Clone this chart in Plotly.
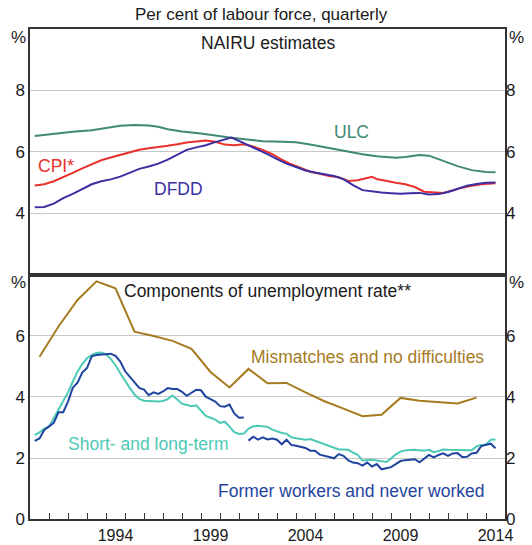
import plotly.graph_objects as go

# ---------------- Data ----------------
# Top panel: NAIRU estimates (per cent)
ulc_x = [1990.25, 1991.25, 1992.25, 1993.25, 1994.0, 1994.75, 1995.5, 1996.25, 1996.75, 1997.25,
         1998.0, 1999.0, 2000.5, 2001.5, 2002.25, 2003.25, 2004.0, 2004.75, 2005.75, 2006.75,
         2007.5, 2008.25, 2009.25, 2009.75, 2010.5, 2011.0, 2011.5, 2012.0, 2012.5, 2013.25,
         2014.0, 2014.5]
ulc_y = [6.52, 6.60, 6.66, 6.71, 6.78, 6.85, 6.88, 6.86, 6.82, 6.74,
         6.67, 6.60, 6.47, 6.40, 6.35, 6.33, 6.32, 6.24, 6.13, 6.00,
         5.93, 5.86, 5.81, 5.84, 5.90, 5.88, 5.77, 5.65, 5.54, 5.41,
         5.35, 5.34]

cpi_x = [1990.25, 1990.75, 1991.25, 1991.75, 1992.25, 1992.75, 1993.25, 1993.75, 1994.25, 1994.75,
         1995.25, 1995.75, 1996.25, 1996.75, 1997.25, 1997.75, 1998.25, 1998.75, 1999.25, 1999.75,
         2000.25, 2000.75, 2001.25, 2001.75, 2002.25, 2002.75, 2003.25, 2003.75, 2004.25, 2004.75,
         2005.25, 2005.75, 2006.25, 2006.75, 2007.25, 2007.75, 2008.0, 2008.25, 2008.75, 2009.25,
         2009.75, 2010.25, 2010.75, 2011.25, 2011.75, 2012.25, 2012.75, 2013.25, 2013.75, 2014.5]
cpi_y = [4.91, 4.95, 5.05, 5.18, 5.32, 5.47, 5.60, 5.73, 5.82, 5.90,
         6.00, 6.07, 6.12, 6.15, 6.20, 6.25, 6.31, 6.34, 6.37, 6.33,
         6.24, 6.22, 6.25, 6.18, 6.07, 5.93, 5.75, 5.60, 5.48, 5.36,
         5.29, 5.22, 5.18, 5.06, 5.08, 5.17, 5.19, 5.12, 5.05, 5.00,
         4.95, 4.86, 4.71, 4.68, 4.67, 4.75, 4.84, 4.90, 4.95, 4.98]

dfdd_x = [1990.25, 1990.75, 1991.25, 1991.75, 1992.25, 1992.75, 1993.25, 1993.75, 1994.25, 1994.75,
          1995.25, 1995.75, 1996.25, 1996.75, 1997.25, 1997.75, 1998.25, 1998.75, 1999.25, 1999.75,
          2000.25, 2000.6, 2001.0, 2001.5, 2002.0, 2002.5, 2003.0, 2003.5, 2004.0, 2004.5,
          2005.0, 2005.5, 2006.0, 2006.5, 2007.0, 2007.5, 2008.0, 2008.5, 2009.0, 2009.5,
          2010.0, 2010.5, 2011.0, 2011.5, 2012.0, 2012.5, 2013.0, 2013.5, 2014.0, 2014.5]
dfdd_y = [4.20, 4.21, 4.32, 4.50, 4.64, 4.79, 4.95, 5.05, 5.11, 5.20,
          5.33, 5.45, 5.53, 5.62, 5.75, 5.92, 6.07, 6.15, 6.22, 6.32,
          6.40, 6.47, 6.36, 6.22, 6.08, 5.93, 5.77, 5.62, 5.51, 5.40,
          5.33, 5.28, 5.22, 5.12, 4.92, 4.76, 4.71, 4.68, 4.66, 4.64,
          4.66, 4.67, 4.62, 4.63, 4.70, 4.80, 4.90, 4.96, 5.00, 5.01]

# Bottom panel: components of unemployment rate (per cent)
mis_x = [1990.5, 1991.5, 1992.5, 1993.5, 1994.5, 1995.5, 1996.5, 1997.5, 1998.5, 1999.5,
         2000.5, 2001.5, 2002.5, 2003.5, 2004.5, 2005.5, 2006.5, 2007.5, 2008.5, 2009.5,
         2010.5, 2011.5, 2012.5, 2013.5]
mis_y = [5.32, 6.31, 7.18, 7.79, 7.56, 6.14, 6.00, 5.84, 5.58, 4.82,
         4.31, 4.92, 4.45, 4.46, 4.15, 3.86, 3.62, 3.37, 3.42, 3.97,
         3.88, 3.83, 3.79, 3.98]

slt_y = [2.75, 2.84, 2.96, 3.02, 3.30, 3.58, 3.85, 4.15, 4.50, 4.83,
         5.08, 5.27, 5.38, 5.44, 5.46, 5.40, 5.25, 5.04, 4.78, 4.52,
         4.30, 4.08, 3.94, 3.88, 3.87, 3.87, 3.85, 3.87, 3.93, 4.05,
         3.92, 3.78, 3.74, 3.70, 3.73, 3.56, 3.38, 3.32, 3.26, 3.15,
         3.19, 3.03, 2.85, 2.79, 2.80, 2.96, 3.04, 3.06, 3.05, 3.02,
         2.93, 2.87, 2.82, 2.80, 2.68, 2.65, 2.62, 2.60, 2.62, 2.56,
         2.51, 2.44, 2.38, 2.32, 2.28, 2.28, 2.27, 2.18, 2.10, 1.92,
         1.93, 1.94, 1.92, 1.90, 1.87, 1.98, 2.12, 2.21, 2.25, 2.26,
         2.27, 2.25, 2.24, 2.27, 2.19, 2.23, 2.28, 2.27, 2.26, 2.27,
         2.26, 2.25, 2.25, 2.38, 2.43, 2.44, 2.60, 2.61]
slt_x = [1990.25 + 0.25 * i for i in range(len(slt_y))]  # quarterly dates

fw_x = [1990.25, 1990.5, 1990.75, 1991.0, 1991.25, 1991.5, 1991.75, 1992.0, 1992.25, 1992.5,
        1992.75, 1993.0, 1993.25, 1993.5, 1993.75, 1994.0, 1994.25, 1994.5, 1994.75, 1995.0,
        1995.25, 1995.5, 1995.75, 1996.0, 1996.25, 1996.5, 1996.75, 1997.0, 1997.25, 1997.5,
        1997.75, 1998.0, 1998.25, 1998.5, 1998.75, 1999.0, 1999.25, 1999.5, 1999.75, 2000.0,
        2000.25, 2000.5, 2000.75, 2001.0, 2001.25, 2001.375, 2001.5, 2001.75, 2002.0, 2002.25,
        2002.5, 2002.75, 2003.0, 2003.25, 2003.5, 2003.75, 2004.0, 2004.25, 2004.5, 2004.75,
        2005.0, 2005.25, 2005.5, 2005.75, 2006.0, 2006.25, 2006.5, 2006.75, 2007.0, 2007.25,
        2007.5, 2007.75, 2008.0, 2008.25, 2008.5, 2008.75, 2009.0, 2009.25, 2009.5, 2009.75,
        2010.0, 2010.25, 2010.5, 2010.75, 2011.0, 2011.25, 2011.5, 2011.75, 2012.0, 2012.25,
        2012.5, 2012.75, 2013.0, 2013.25, 2013.5, 2013.75, 2014.0, 2014.25, 2014.5]
fw_y = [2.56, 2.64, 2.92, 3.04, 3.15, 3.50, 3.50, 3.85, 4.30, 4.47,
        4.80, 4.95, 5.33, 5.38, 5.39, 5.40, 5.42, 5.35, 5.16, 4.85,
        4.67, 4.46, 4.30, 4.24, 4.06, 4.15, 4.10, 4.18, 4.29, 4.26,
        4.26, 4.17, 4.04, 4.14, 4.24, 4.22, 4.01, 3.93, 3.85, 3.70,
        3.68, 3.75, 3.46, 3.32, 3.33, None, 2.57, 2.70, 2.60, 2.68,
        2.61, 2.64, 2.60, 2.45, 2.60, 2.43, 2.40, 2.36, 2.33, 2.24,
        2.24, 2.11, 2.08, 2.03, 1.99, 2.13, 2.07, 1.92, 1.85, 1.83,
        1.75, 1.85, 1.72, 1.80, 1.63, 1.66, 1.70, 1.80, 1.90, 1.93,
        1.94, 1.96, 1.86, 1.98, 2.10, 2.02, 2.10, 2.15, 2.07, 2.15,
        2.16, 2.03, 2.04, 2.15, 2.17, 2.39, 2.43, 2.47, 2.32]

year_ticks = list(range(1991, 2015))
year_label_pos = [1994.5, 1999.5, 2004.5, 2009.5, 2014.5]
year_labels = ["1994", "1999", "2004", "2009", "2014"]

# ---------------- Styling ----------------
FONT = "Arial, Liberation Sans, sans-serif"
TXT = "#1a1a1a"
AX = "#333333"
GRID = "#c8c8c8"
C_ULC = "#3f8a72"
C_CPI = "#e8302c"
C_DFDD = "#3b2fa3"
C_MIS = "#a67a1f"
C_SLT = "#4cc9b6"
C_FW = "#1f44a0"

fig = go.Figure()

def line(x, y, color, xa, ya):
    fig.add_trace(go.Scatter(x=x, y=y, mode="lines", line=dict(color=color, width=2),
                             xaxis=xa, yaxis=ya, showlegend=False, hoverinfo="skip",
                             connectgaps=False))

line(ulc_x, ulc_y, C_ULC, "x2", "y2")
line(cpi_x, cpi_y, C_CPI, "x2", "y2")
line(dfdd_x, dfdd_y, C_DFDD, "x2", "y2")
line(mis_x, mis_y, C_MIS, "x", "y")
line(slt_x, slt_y, C_SLT, "x", "y")
line(fw_x, fw_y, C_FW, "x", "y")

# invisible traces to activate the right-hand axes
fig.add_trace(go.Scatter(x=[2000], y=[5], mode="markers", marker=dict(opacity=0),
                         xaxis="x", yaxis="y3", showlegend=False, hoverinfo="skip"))
fig.add_trace(go.Scatter(x=[2000], y=[5], mode="markers", marker=dict(opacity=0),
                         xaxis="x2", yaxis="y4", showlegend=False, hoverinfo="skip"))

split = 0.498
tickfont = dict(family=FONT, size=17, color=TXT)
xtickfont = dict(family=FONT, size=16, color=TXT)
ANN = 17.5

fig.update_layout(
    width=532, height=545,
    margin=dict(l=30, r=27, t=29, b=26, autoexpand=False),
    paper_bgcolor="white", plot_bgcolor="white",
    font=dict(family=FONT, size=ANN, color=TXT),
    xaxis=dict(domain=[0, 1], range=[1990, 2015], anchor="y", automargin=False,
               tickmode="array", tickvals=year_label_pos, ticktext=year_labels,
               ticks="", ticklabelstandoff=1, showgrid=False, zeroline=False,
               showline=True, linecolor=AX, linewidth=1.5, mirror=True,
               tickfont=xtickfont,
               minor=dict(tickmode="array", tickvals=year_ticks, ticks="inside",
                          ticklen=6, tickwidth=1, tickcolor=AX, showgrid=False)),
    xaxis2=dict(domain=[0, 1], range=[1990, 2015], anchor="y2", automargin=False,
                showticklabels=False, ticks="", showgrid=False, zeroline=False,
                showline=True, linecolor=AX, linewidth=1.5, mirror=True),
    yaxis=dict(domain=[0, split], range=[0, 8], anchor="x", automargin=False,
               tickmode="array", tickvals=[0, 2, 4, 6], ticks="",
               showgrid=True, gridcolor=GRID, gridwidth=1, zeroline=False,
               showline=True, linecolor=AX, linewidth=1.5, mirror=True,
               tickfont=tickfont),
    yaxis3=dict(range=[0, 8], overlaying="y", side="right", anchor="x", automargin=False,
                tickmode="array", tickvals=[0, 2, 4, 6], ticks="",
                showgrid=False, zeroline=False, showline=False, tickfont=tickfont),
    yaxis2=dict(domain=[split, 1], range=[2, 10], anchor="x2", automargin=False,
                tickmode="array", tickvals=[4, 6, 8], ticks="",
                showgrid=True, gridcolor=GRID, gridwidth=1, zeroline=False,
                showline=True, linecolor=AX, linewidth=1.5, mirror=True,
                tickfont=tickfont),
    yaxis4=dict(range=[2, 10], overlaying="y2", side="right", anchor="x2", automargin=False,
                tickmode="array", tickvals=[4, 6, 8], ticks="",
                showgrid=False, zeroline=False, showline=False, tickfont=tickfont),
)

# divider between panels
fig.add_shape(type="line", xref="paper", yref="paper", x0=0, x1=1, y0=split, y1=split,
              line=dict(color=AX, width=2.5))

anns = [
    dict(text="Per cent of labour force, quarterly", xref="paper", yref="paper",
         x=(261 - 30) / 475, y=1 + (29 - 14) / 490, showarrow=False, xanchor="center", yanchor="middle",
         font=dict(size=17)),
    dict(text="%", xref="paper", yref="y2", x=0, y=9.73, xanchor="right", xshift=-2, showarrow=False,
         font=dict(size=17)),
    dict(text="%", xref="paper", yref="y2", x=1, y=9.73, xanchor="left", xshift=2, showarrow=False,
         font=dict(size=17)),
    dict(text="%", xref="paper", yref="y", x=0, y=7.74, xanchor="right", xshift=-2, showarrow=False,
         font=dict(size=17)),
    dict(text="%", xref="paper", yref="y", x=1, y=7.74, xanchor="left", xshift=2, showarrow=False,
         font=dict(size=17)),
    dict(text="NAIRU estimates", xref="x2", yref="y2", x=2002.5, y=9.53, showarrow=False),
    dict(text="ULC", xref="x2", yref="y2", x=2006.9, y=6.65, showarrow=False, font=dict(color=C_ULC)),
    dict(text="CPI*", xref="x2", yref="y2", x=1991.37, y=5.56, showarrow=False, font=dict(color=C_CPI)),
    dict(text="DFDD", xref="x2", yref="y2", x=1997.84, y=4.81, showarrow=False, font=dict(color=C_DFDD)),
    dict(text="Components of unemployment rate**", xref="x", yref="y", x=2002.5, y=7.49, showarrow=False),
    dict(text="Mismatches and no difficulties", xref="x", yref="y", x=2007.76, y=5.32,
         showarrow=False, font=dict(color=C_MIS)),
    dict(text="Short- and long-term", xref="x", yref="y", x=1996.26, y=2.46,
         showarrow=False, font=dict(color=C_SLT)),
    dict(text="Former workers and never worked", xref="x", yref="y", x=2006.9, y=0.93,
         showarrow=False, font=dict(color=C_FW)),
]
fig.update_layout(annotations=anns)

fig.write_html("out.html", config={"displayModeBar": False},
               post_script="document.body.style.margin='0';")
